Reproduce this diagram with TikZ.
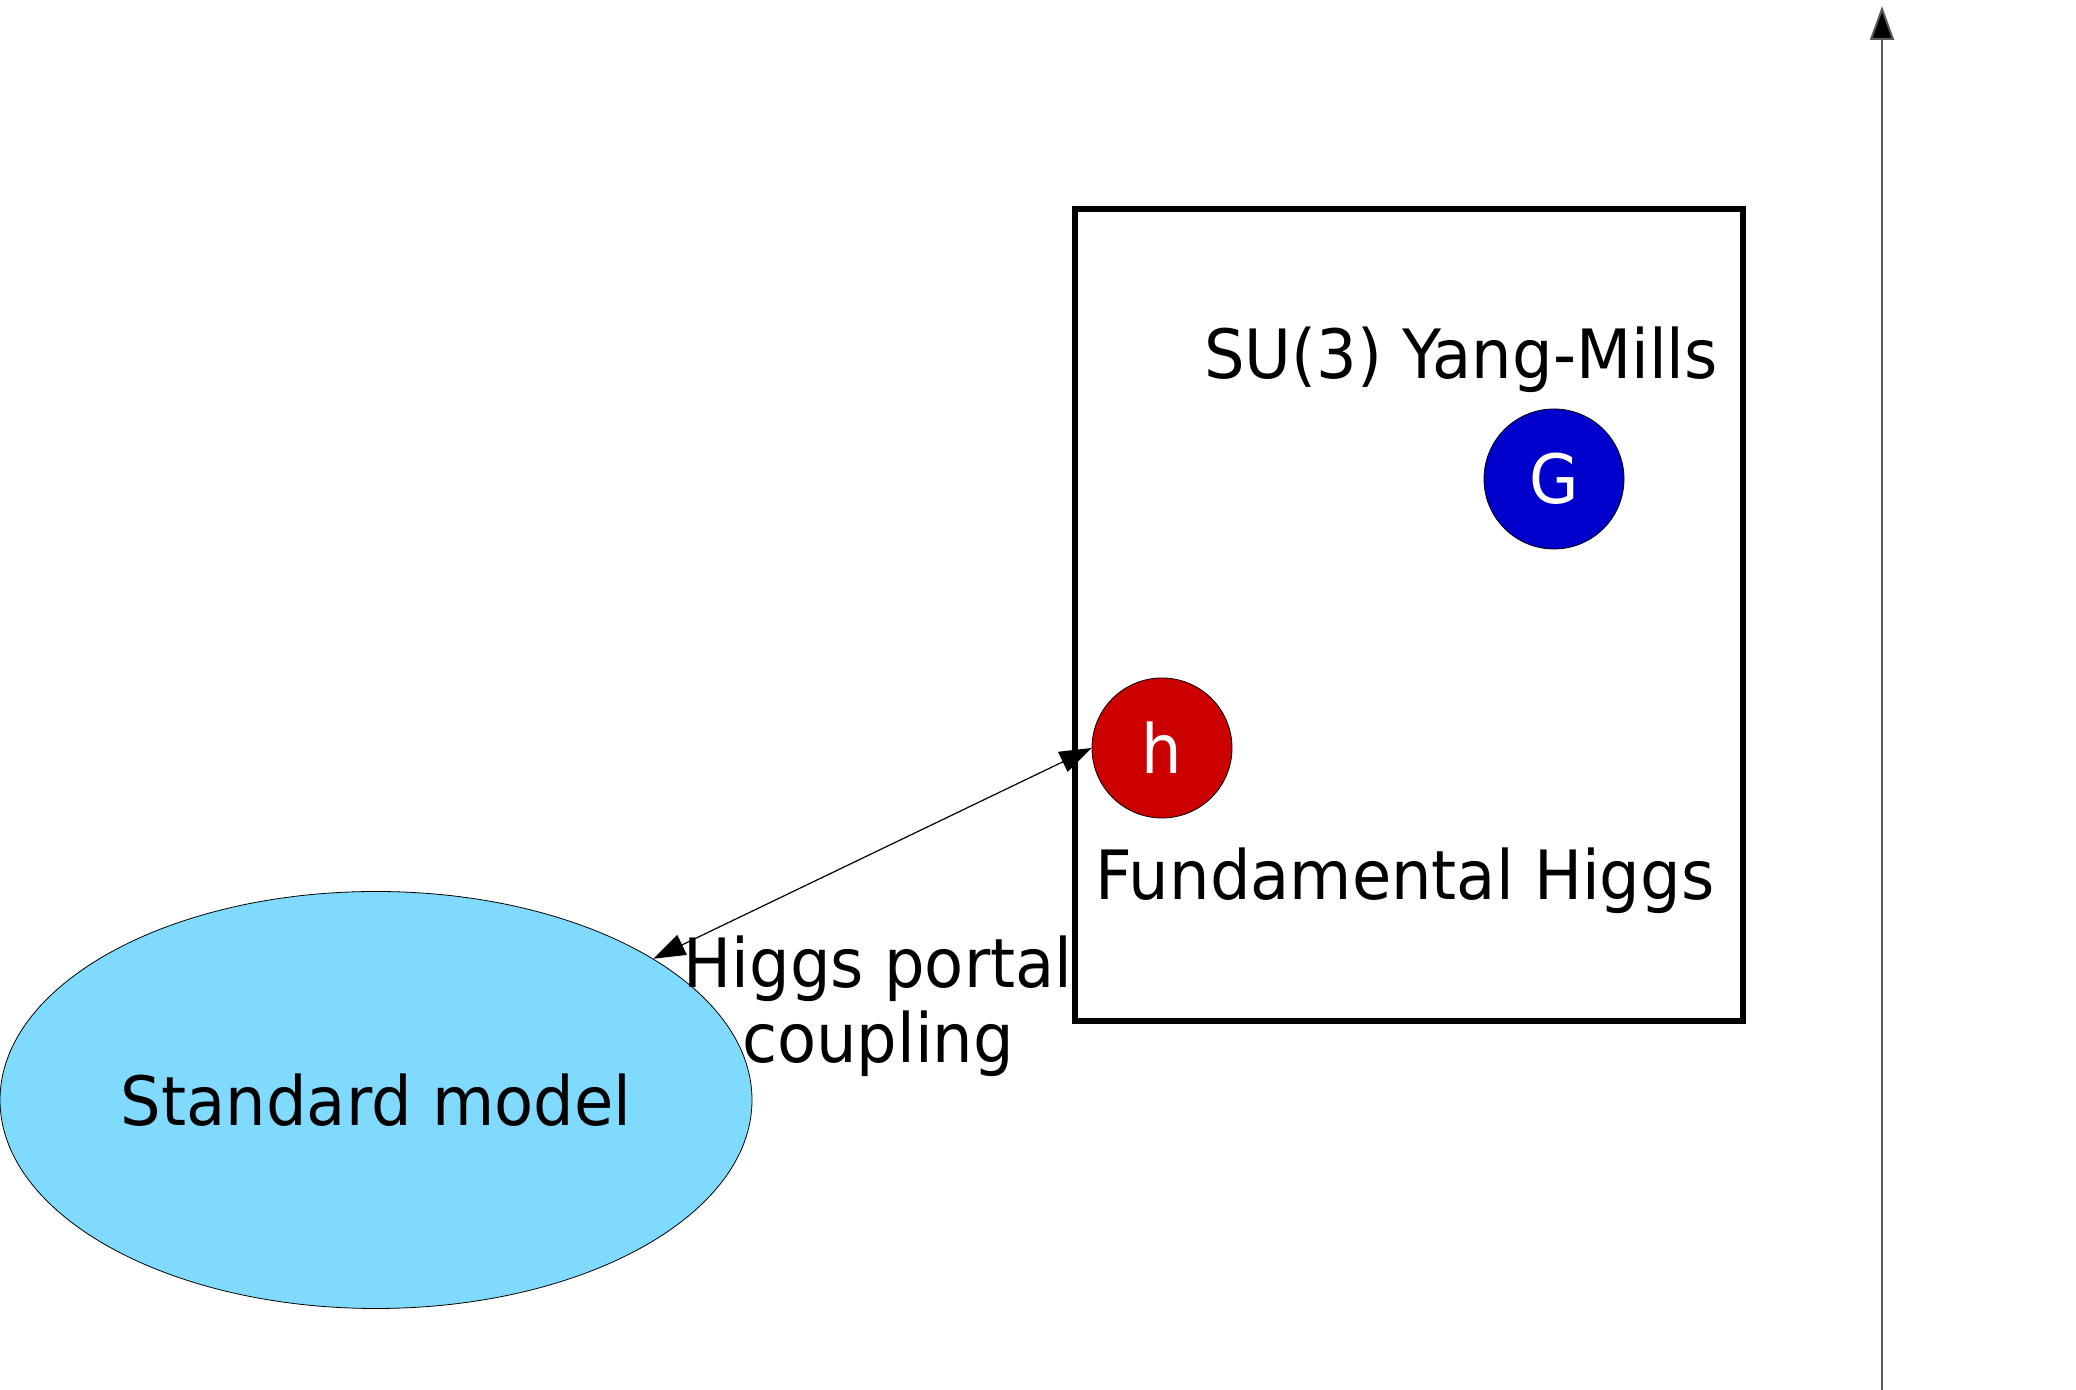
\documentclass[tikz,border=0pt]{standalone}
\usepackage{fontspec}
\setmainfont[FakeStretch=0.94]{DejaVu Sans}
\usetikzlibrary{shapes.geometric,arrows.meta}

\definecolor{smblue}{RGB}{128,218,254}
\definecolor{gluonblue}{RGB}{0,0,204}
\definecolor{higgsred}{RGB}{204,0,0}
\definecolor{axisgray}{RGB}{90,90,90}

\tikzset{
  label text/.style={font=\fontsize{34}{37.5}\selectfont, inner sep=0pt},
  particle/.style={circle, draw=black, line width=0.4pt, inner sep=0pt,
    minimum size=70pt, text=white, font=\fontsize{34}{37.5}\selectfont},
  sector/.style={rectangle, draw=black, line width=2.8pt, inner sep=0pt,
    minimum width=334pt, minimum height=406pt},
  portal/.style={arrows={Triangle[length=16pt,width=11pt]-Triangle[length=16pt,width=11pt]},
    line width=0.6pt},
  scale axis/.style={arrows={-Triangle[length=17pt,width=12pt,fill=black]},
    draw=axisgray, line width=1pt}
}

\begin{document}
\begin{tikzpicture}[x=0.5pt, y=0.5pt]
  \useasboundingbox (0,0) rectangle (2076,1390);

  % hidden sector
  \node[sector] (box) at (1409,775) {};
  \node[label text, anchor=base] (ym) at (1461,1011) {SU(3) Yang-Mills};
  \node[label text, anchor=base] (fh) at (1405,490) {Fundamental Higgs};
  \node[particle, fill=gluonblue] (G) at (1554,911) {G};
  \node[particle, fill=higgsred] (h) at (1162,642) {h};

  % visible sector
  \node[ellipse, draw=black, line width=0.4pt, fill=smblue, inner sep=0pt,
        minimum width=376pt, minimum height=208.5pt,
        font=\fontsize{34}{37.5}\selectfont] (sm) at (376,290) {Standard model};

  % portal coupling
  \draw[portal] (sm.27.7) -- (h.west);
  \node[label text, anchor=base, align=center] (hp) at (878,327)
    {Higgs portal\\coupling};

  % energy scale axis
  \coordinate (axbot) at (1882,0);
  \coordinate (axtop) at (1882,1384);
  \draw[scale axis] (axbot) -- (axtop);
\end{tikzpicture}
\end{document}
